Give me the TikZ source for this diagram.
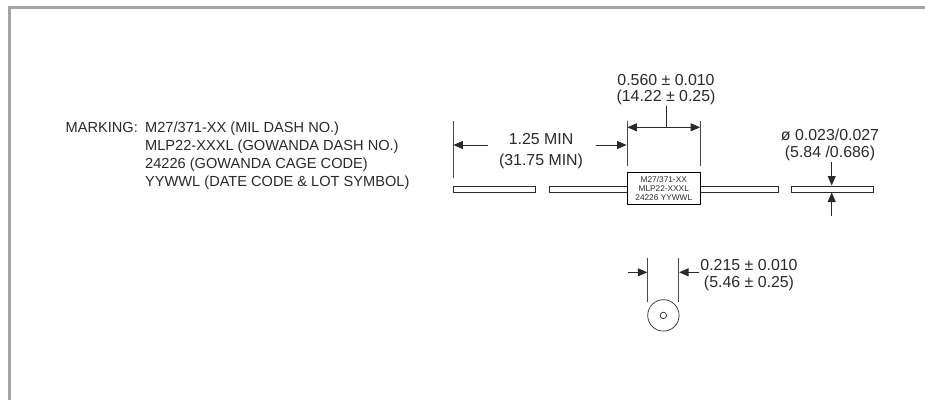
\documentclass[tikz,border=0pt]{standalone}
\usepackage{fontspec}
\setmainfont{Liberation Sans}
\usetikzlibrary{arrows.meta}
\definecolor{ink}{HTML}{2A2A2A}
\definecolor{framegrey}{HTML}{A3A5A8}
\newcommand{\bigtxt}{\fontsize{15.9}{16.5}\selectfont}
\tikzset{
  lab/.style={inner sep=0pt,text=ink,font=\bigtxt,align=center},
  marklab/.style={inner sep=0pt,text=ink,font=\fontsize{14.6}{15}\selectfont,anchor=base west},
  lead/.style={draw=ink,line width=0.9pt,fill=white},
  extline/.style={draw=ink!85,line width=0.9pt},
  dimline/.style={draw=ink,line width=0.8pt},
  dimarrow/.style={dimline,-{Triangle[length=9.5pt,width=8pt,fill=ink]}},
  dimboth/.style={dimline,{Triangle[length=9.5pt,width=8pt,fill=ink]}-{Triangle[length=9.5pt,width=8pt,fill=ink]}}
}
\begin{document}
\begin{tikzpicture}[x=1pt,y=-1pt]
\useasboundingbox (0,0) rectangle (925,400);
\fill[white] (0,0) rectangle (925,400);
% frame
\draw[framegrey,line width=3pt] (9.5,400) -- (9.5,7.5) -- (925,7.5);
% marking text
\node[marklab] (m1) at (65.5,132.5) {MARKING:};
\node[marklab] (m2) at (145,132.5) {M27/371-XX (MIL DASH NO.)};
\node[marklab] (m3) at (145,150.5) {MLP22-XXXL (GOWANDA DASH NO.)};
\node[marklab] (m4) at (145,168.5) {24226 (GOWANDA CAGE CODE)};
\node[marklab] (m5) at (145,186) {YYWWL (DATE CODE \& LOT SYMBOL)};
% leads
\draw[lead] (453.5,186) rectangle (535.5,192);
\draw[lead] (549.5,186) rectangle (627,192);
\draw[lead] (700.5,186) rectangle (778,192);
\draw[lead] (791.5,186) rectangle (873,192);
% body
\node[draw=black,line width=0.9pt,fill=white,minimum width=73.5pt,minimum height=32pt,inner sep=0pt] (body) at (663.75,188.25) {};
\node[inner sep=0pt,text=ink,font=\fontsize{8.3}{9}\selectfont,align=center,anchor=center] (bodytxt) at (663.75,188.6) {M27/371-XX\\[-0.6pt]MLP22-XXXL\\[-0.2pt]24226 YYWWL};
% 1.25 dimension
\coordinate (e1a) at (453,120.5); \coordinate (e1b) at (453,178);
\coordinate (e2a) at (627,120.5); \coordinate (e2b) at (627,166);
\coordinate (e3a) at (700.5,120.5); \coordinate (e3b) at (700.5,166);
\draw[extline] (e1a) -- (e1b);
\draw[extline] (e2a) -- (e2b);
\draw[extline] (e3a) -- (e3b);
\node[lab] (lmin) at (541,151) {1.25 MIN\\[3.9pt](31.75 MIN)};
\coordinate (a1) at (487.5,145); \coordinate (a1t) at (453.4,145);
\coordinate (a2) at (596,145); \coordinate (a2t) at (626.6,145);
\draw[dimarrow] (a1) -- (a1t);
\draw[dimarrow] (a2) -- (a2t);
% 0.560 dimension
\node[lab] (llen) at (666,89.5) {0.560 ± 0.010\\(14.22 ± 0.25)};
\coordinate (b1) at (627.4,127.3); \coordinate (b2) at (700.1,127.3);
\coordinate (bm) at (666.7,127.3); \coordinate (bt) at (666.7,105.5);
\draw[dimboth] (b1) -- (b2);
\draw[dimline] (bt) -- (bm);
% diameter
\node[lab] (ldia) at (830,145) {ø 0.023/0.027\\(5.84 /0.686)};
\coordinate (c1) at (831.7,162); \coordinate (c1t) at (831.7,185.5);
\coordinate (c2) at (831.7,216); \coordinate (c2t) at (831.7,192.5);
\draw[dimarrow] (c1) -- (c1t);
\draw[dimarrow] (c2) -- (c2t);
% end view
\coordinate (f1a) at (647.7,258); \coordinate (f1b) at (647.7,301.5);
\coordinate (f2a) at (678.7,258); \coordinate (f2b) at (678.7,301.5);
\draw[extline] (f1a) -- (f1b);
\draw[extline] (f2a) -- (f2b);
\coordinate (g1) at (628,272.3); \coordinate (g1t) at (647.3,272.3);
\coordinate (g2) at (699,272.3); \coordinate (g2t) at (679.1,272.3);
\draw[dimarrow] (g1) -- (g1t);
\draw[dimarrow] (g2) -- (g2t);
\node[lab] (ldw) at (749,275) {0.215 ± 0.010\\(5.46 ± 0.25)};
\node[circle,draw=ink,line width=0.7pt,minimum size=31.4pt,inner sep=0pt] (outer) at (663.4,315.4) {};
\node[circle,draw=ink,line width=0.7pt,minimum size=6.4pt,inner sep=0pt] (inner) at (663.4,315.4) {};
\end{tikzpicture}
\end{document}
